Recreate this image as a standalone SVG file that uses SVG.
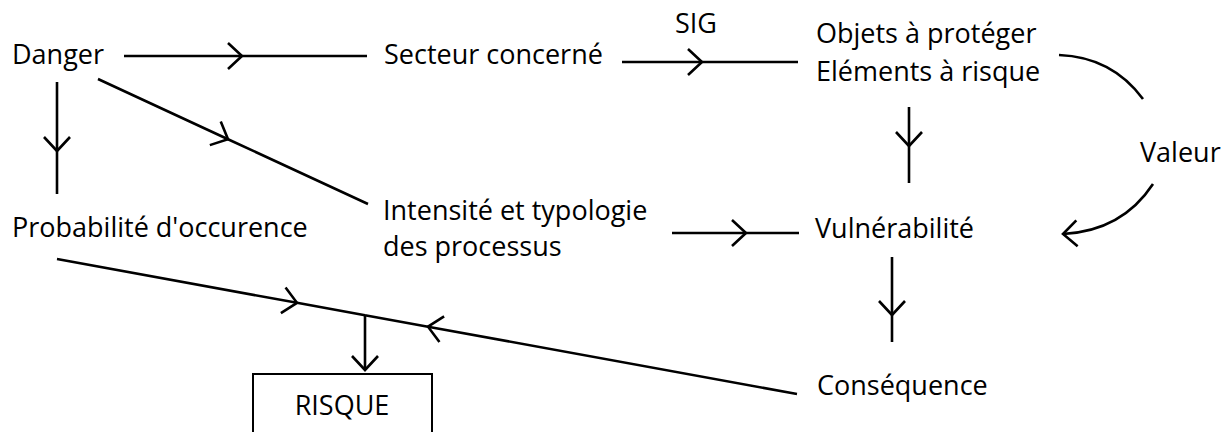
<svg xmlns="http://www.w3.org/2000/svg" width="1232" height="432" viewBox="0 0 1232 432">
  <style>
    .lbl { font-family: "Open Sans", "Liberation Sans", sans-serif; font-size: 27px; fill: #000; }
    .ln { fill: none; stroke: #000; stroke-width: 2.6; }
    .box { fill: #fff; stroke: #000; stroke-width: 2; }
  </style>
  <defs>
    <marker id="chev" markerUnits="userSpaceOnUse" markerWidth="40" markerHeight="40" refX="0" refY="0" orient="auto" viewBox="-20 -20 40 40" overflow="visible">
      <path d="M -14 -13 L 0 0 L -14 13" fill="none" stroke="#000" stroke-width="2.6"/>
    </marker>
  </defs>
  <rect width="1232" height="432" fill="#fff"/>

  <g id="connectors">
    <path class="ln" d="M124 56 L242 56 L367 56" marker-mid="url(#chev)"/>
    <path class="ln" d="M622 62 L702 62 L798 62" marker-mid="url(#chev)"/>
    <path class="ln" d="M98 79 L228 139.2 L368 204" marker-mid="url(#chev)"/>
    <path class="ln" d="M57 82 L57 151 L57 194" marker-mid="url(#chev)"/>
    <path class="ln" d="M909 107 L909 146 L909 183" marker-mid="url(#chev)"/>
    <path class="ln" d="M672 233 L746 233 L799 233" marker-mid="url(#chev)"/>
    <path class="ln" d="M892 257 L892 315 L892 342" marker-mid="url(#chev)"/>
    <path class="ln" d="M57 259 L297 302.8 L365 315.2" marker-mid="url(#chev)"/>
    <path class="ln" d="M797 394 L428 326.7 L365 315.2" marker-mid="url(#chev)"/>
    <path class="ln" d="M365 315 L365 370" marker-end="url(#chev)"/>
    <path class="ln" d="M1059 55 Q1112 57 1143 99"/>
    <path class="ln" d="M1153 184 Q1122 231 1063 234" marker-end="url(#chev)"/>
  </g>

  <g id="danger"><text class="lbl" x="12" y="64">Danger</text></g>
  <g id="secteur"><text class="lbl" x="384" y="64">Secteur concerné</text></g>
  <g id="sig"><text class="lbl" x="675" y="33">SIG</text></g>
  <g id="objets">
    <text class="lbl" x="816" y="43">Objets à protéger</text>
    <text class="lbl" x="816" y="81">Eléments à risque</text>
  </g>
  <g id="valeur"><text class="lbl" x="1140" y="162">Valeur</text></g>
  <g id="probabilite"><text class="lbl" x="12" y="237">Probabilité d'occurence</text></g>
  <g id="intensite">
    <text class="lbl" x="383" y="220">Intensité et typologie</text>
    <text class="lbl" x="383" y="256">des processus</text>
  </g>
  <g id="vulnerabilite"><text class="lbl" x="815" y="238">Vulnérabilité</text></g>
  <g id="consequence"><text class="lbl" x="817" y="395">Conséquence</text></g>
  <g id="risque">
    <rect class="box" x="253" y="374" width="179" height="70"/>
    <text class="lbl" x="342" y="415" text-anchor="middle">RISQUE</text>
  </g>
</svg>
